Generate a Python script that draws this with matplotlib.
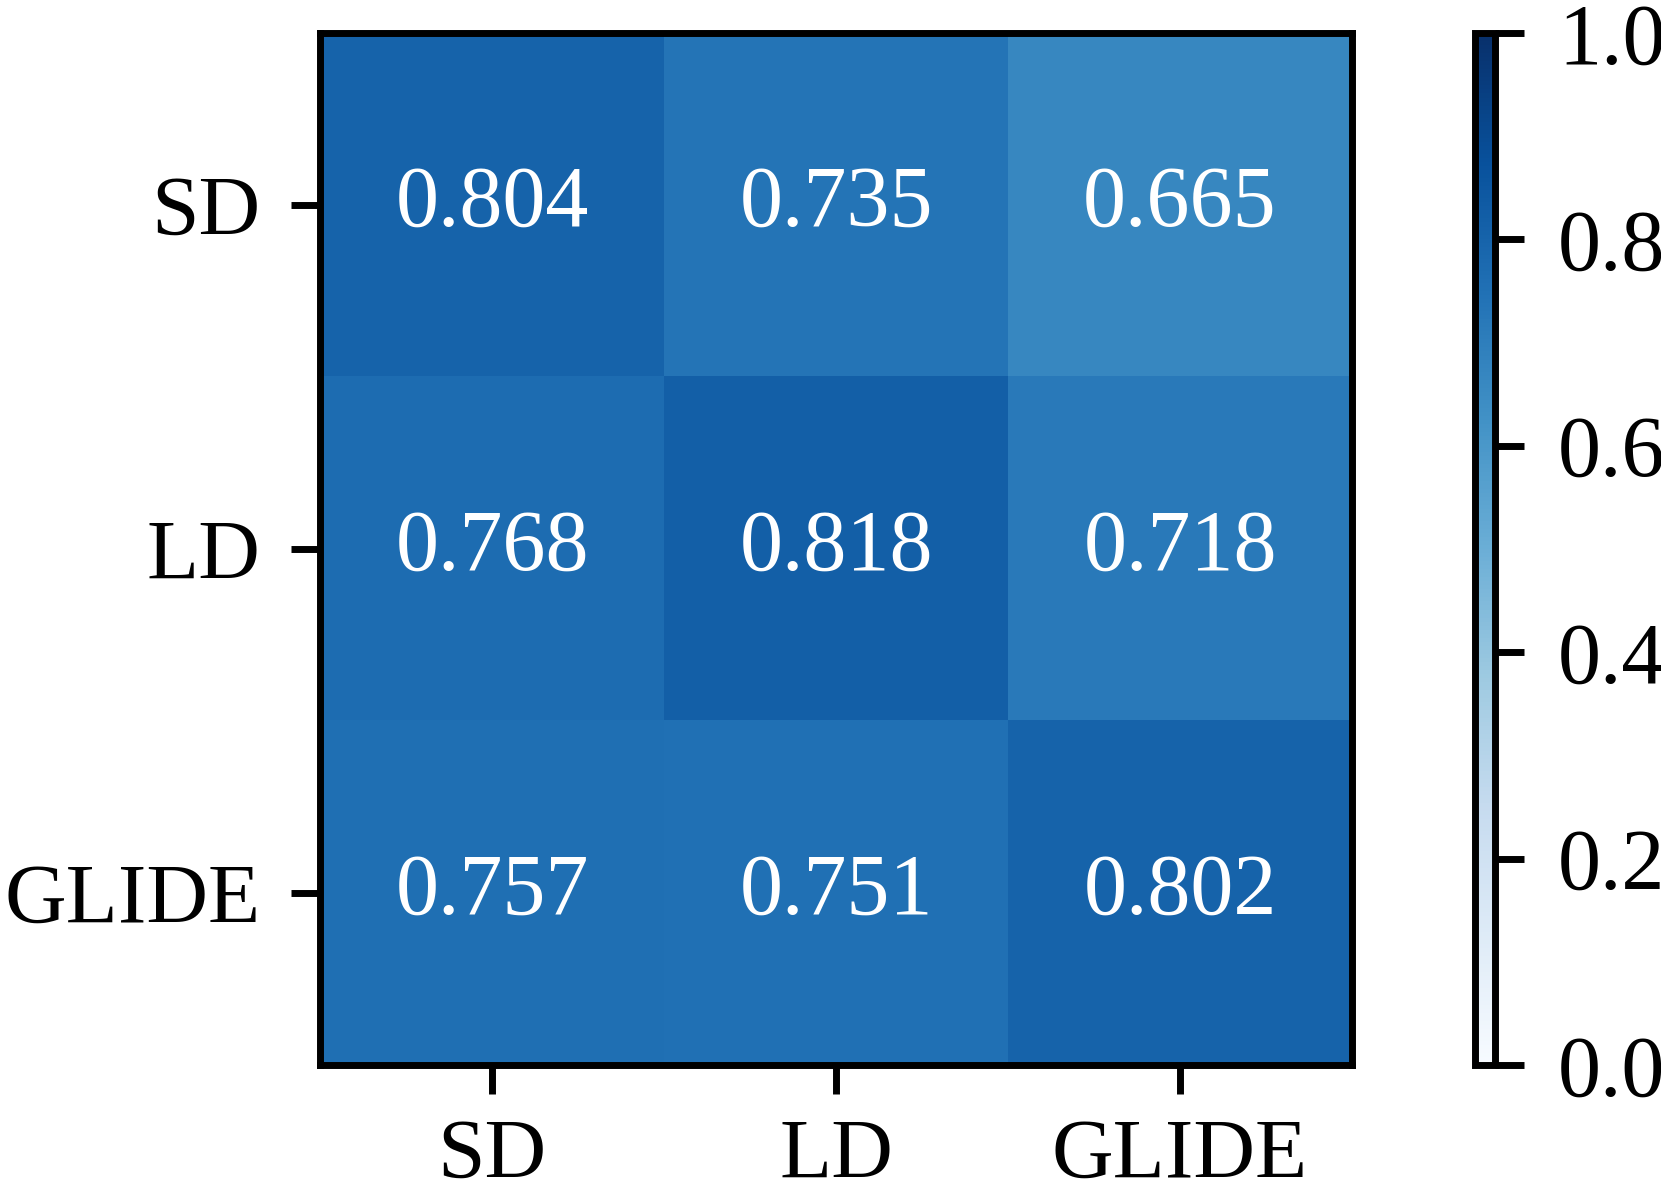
import matplotlib
matplotlib.use("Agg")
import matplotlib.pyplot as plt
import numpy as np

labels = ["SD", "LD", "GLIDE"]
values = [[0.804, 0.735, 0.665],
          [0.768, 0.818, 0.718],
          [0.757, 0.751, 0.802]]
cbar_ticks = [0.0, 0.2, 0.4, 0.6, 0.8, 1.0]

plt.rcParams['font.family'] = 'serif'
plt.rcParams['font.serif'] = ['Liberation Serif', 'DejaVu Serif']

fig = plt.figure(figsize=(16.61, 11.92), dpi=100)
ax = fig.add_axes([0.1927, 0.1065, 0.8140 - 0.1927, 0.9723 - 0.1065])
cax = fig.add_axes([0.8883, 0.1065, 0.9003 - 0.8883, 0.9723 - 0.1065])

data = np.array(values)
im = ax.imshow(data, cmap="Blues", vmin=0, vmax=1, aspect="auto")
for i in range(data.shape[0]):
    for j in range(data.shape[1]):
        ax.text(j, i, f"{data[i, j]:.3f}", ha="center", va="center",
                color="white", fontsize=62)

ax.set_xticks(range(len(labels)))
ax.set_xticklabels(labels)
ax.set_yticks(range(len(labels)))
ax.set_yticklabels(labels)
ax.tick_params(axis="both", length=21, width=5, labelsize=61.5)
ax.tick_params(axis="y", pad=22)
ax.tick_params(axis="x", pad=18)
for s in ax.spines.values():
    s.set_linewidth(5)

cb = fig.colorbar(im, cax=cax)
cb.set_ticks(cbar_ticks)
cb.ax.tick_params(length=21, width=5, labelsize=62, pad=24)
cb.outline.set_linewidth(5)

fig.savefig("out.png", dpi=100)
